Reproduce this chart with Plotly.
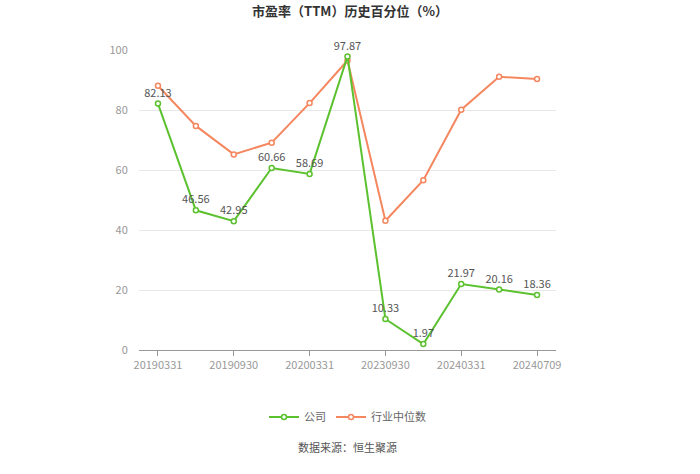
import plotly.graph_objects as go

categories = ["20190331", "20190630", "20190930", "20191231", "20200331", "20230630",
              "20230930", "20231231", "20240331", "20240630", "20240709"]
company = [82.13, 46.56, 42.95, 60.66, 58.69, 97.87, 10.33, 1.97, 21.97, 20.16, 18.36]
industry = [88.1, 74.7, 65.2, 69.1, 82.3, 96.5, 43.1, 56.6, 80.1, 91.1, 90.3]
tick_labels = ["20190331", "20190930", "20200331", "20230930", "20240331", "20240709"]

green = "#5cc12f"
orange = "#f4875f"

fig = go.Figure()
fig.add_trace(go.Scatter(
    x=categories, y=industry, name="行业中位数", mode="lines+markers",
    line=dict(color=orange, width=2),
    marker=dict(symbol="circle", size=5, color="white", line=dict(color=orange, width=1.5)),
    cliponaxis=False,
))
fig.add_trace(go.Scatter(
    x=categories, y=company, name="公司", mode="lines+markers+text",
    line=dict(color=green, width=2),
    marker=dict(symbol="circle", size=5, color="white", line=dict(color=green, width=1.5)),
    text=[f"{v:.2f}" for v in company], textposition="top center",
    textfont=dict(color="#555555", size=11),
    cliponaxis=False,
))

fig.update_layout(
    width=700, height=474,
    margin=dict(l=139, r=144, t=50, b=124),
    paper_bgcolor="white", plot_bgcolor="white",
    font=dict(family="Noto Sans CJK SC, sans-serif", color="#999999", size=11),
    title=dict(text="<b>市盈率（TTM）历史百分位（%）</b>", x=0.5, xanchor="center",
               y=0.975, yanchor="middle", font=dict(size=13, color="#333333")),
    showlegend=True,
    legend=dict(orientation="h", x=0.5, xanchor="center", y=-0.223, yanchor="middle",
                traceorder="reversed", font=dict(size=11, color="#666666")),
    xaxis=dict(type="category", tickmode="array", tickvals=tick_labels, ticktext=tick_labels,
               showline=True, linecolor="#999999", linewidth=1, ticks="outside",
               tickcolor="#999999", ticklen=5, showgrid=False,
               tickfont=dict(color="#999999", size=11), range=[-0.5, 10.5]),
    yaxis=dict(range=[0, 100], tickvals=[0, 20, 40, 60, 80, 100], showgrid=True,
               gridcolor="#e8e8e8", zeroline=False, showline=False,
               tickfont=dict(color="#999999", size=11), ticklen=8, ticks="outside",
               tickcolor="rgba(0,0,0,0)"),
    annotations=[dict(text="数据来源：恒生聚源", xref="paper", yref="paper", x=0.5, y=-0.357,
                      showarrow=False, font=dict(size=11, color="#555555"))],
)

fig.write_html("out.html")
